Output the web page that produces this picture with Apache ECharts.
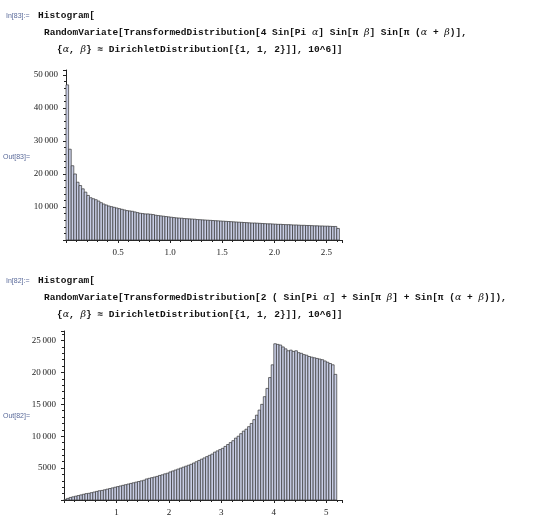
<!DOCTYPE html>
<html><head><meta charset="utf-8">
<script src="https://cdn.jsdelivr.net/npm/echarts@6/dist/echarts.min.js"></script>
<style>html,body{margin:0;padding:0;background:#fff}#c{width:540px;height:521px}</style>
</head><body><div id="c"></div>
<script>
// Top histogram: 4 Sin[Pi a] Sin[Pi b] Sin[Pi (a+b)], bin width 0.025 from 0
const topBinStart = 0, topBinWidth = 0.025;
const topCounts = [
47000,27500,22500,20000,17500,16500,15500,14500,13500,12800,
12500,12200,11800,11300,10900,10600,10300,10100,9900,9700,
9500,9300,9100,8900,8800,8700,8500,8300,8100,8000,
7900,7900,7800,7700,7500,7400,7300,7200,7100,7000,
6900,6800,6700,6650,6600,6500,6450,6400,6350,6300,
6200,6150,6100,6050,6000,5950,5900,5850,5800,5750,
5700,5650,5600,5550,5500,5450,5400,5350,5300,5250,
5200,5150,5150,5100,5050,5000,4950,4900,4900,4850,
4800,4750,4750,4700,4650,4650,4600,4550,4550,4500,
4450,4450,4400,4400,4350,4300,4300,4250,4250,4200,
4200,4150,4100,4100,3500];
// Bottom histogram: 2 (Sin[Pi a] + Sin[Pi b] + Sin[Pi (a+b)]), bin width 0.05 from 0
const botBinStart = 0, botBinWidth = 0.05;
const botCounts = [
100,250,400,500,600,700,800,900,1000,1050,
1150,1250,1350,1450,1500,1600,1700,1800,1900,2000,
2100,2200,2300,2400,2500,2600,2700,2800,2900,3000,
3100,3300,3400,3500,3600,3700,3850,3950,4100,4200,
4400,4550,4700,4850,5000,5150,5300,5450,5600,5800,
6000,6200,6400,6600,6800,7000,7200,7500,7700,7900,
8100,8400,8700,9000,9300,9700,10000,10400,10800,11100,
11500,12000,12600,13300,14100,15000,16200,17500,19200,21200,
24500,24400,24300,24000,23700,23400,23500,23300,23400,23100,
23000,22800,22700,22500,22400,22300,22200,22100,22000,21800,
21600,21400,21200,19700];
const topXTicks = [0.5,1.0,1.5,2.0,2.5];
const botXTicks = [1,2,3,4,5];

function toData(start,w,counts){return counts.map((c,i)=>[start+i*w,start+(i+1)*w,c]);}
function fmtY(v){if(v===0)return '';const s=String(v);return s.length>4?s.slice(0,s.length-3)+'\u2009'+s.slice(-3):s;}
const axisLine={lineStyle:{color:'#222',width:1}};
const lab={fontFamily:'Liberation Serif',fontSize:9,color:'#222'};
function renderBar(params,api){
  const p0=api.coord([api.value(0),api.value(2)]);
  const p1=api.coord([api.value(1),0]);
  return {type:'rect',shape:{x:p0[0],y:p0[1],width:p1[0]-p0[0],height:p1[1]-p0[1]},
    style:{fill:'#c9cee6',stroke:'#333',lineWidth:0.7}};
}
const chart=echarts.init(document.getElementById('c'),null,{renderer:'canvas'});
const codeStyle={fontFamily:'Liberation Mono',fontWeight:'bold',fontSize:9.5,fill:'#111',
  rich:{g:{fontFamily:'DejaVu Serif',fontStyle:'italic',fontSize:9.5,color:'#4a5aa0'},
        n:{fontFamily:'Liberation Mono',fontWeight:'bold',fontSize:9.5,color:'#111'}}};
function code(x,y,t){return {type:'text',left:x,top:y,style:Object.assign({},codeStyle,{text:t})};}
function lbl(x,y,t){return {type:'text',left:x,top:y,style:{text:t,fontFamily:'Liberation Sans',fontSize:7,fill:'#5a6a9a'}};}
chart.setOption({
  animation:false,
  graphic:[
    lbl(6,13,'In[83]:='), code(38,11,'Histogram['),
    code(44,28,'RandomVariate[TransformedDistribution[4 Sin[Pi {g|α}] Sin[π {g|β}] Sin[π ({g|α} + {g|β})],'),
    code(57,45,'{{g|α}, {g|β}} ≈ DirichletDistribution[{1, 1, 2}]], 10^6]]'),
    lbl(3,154,'Out[83]='),
    lbl(6,278,'In[82]:='), code(38,276,'Histogram['),
    code(44,293,'RandomVariate[TransformedDistribution[2 ( Sin[Pi {g|α}] + Sin[π {g|β}] + Sin[π ({g|α} + {g|β})]),'),
    code(57,310,'{{g|α}, {g|β}} ≈ DirichletDistribution[{1, 1, 2}]], 10^6]]'),
    lbl(3,413,'Out[82]=')
  ],
  grid:[{left:66,right:198,top:70,bottom:281},{left:64,right:198,top:331,bottom:21}],
  xAxis:[
    {gridIndex:0,type:'value',min:0,max:2.65,interval:0.5,axisLine:axisLine,splitLine:{show:false},
     axisTick:{length:3,lineStyle:{color:'#222'}},minorTick:{show:true,splitNumber:5,length:2,lineStyle:{color:'#222'}},
     axisLabel:Object.assign({},lab,{showMaxLabel:false,formatter:v=>topXTicks.indexOf(v)>=0?v.toFixed(1):''})},
    {gridIndex:1,type:'value',min:0,max:5.3,interval:1,axisLine:axisLine,splitLine:{show:false},
     axisTick:{length:3,lineStyle:{color:'#222'}},minorTick:{show:true,splitNumber:5,length:2,lineStyle:{color:'#222'}},
     axisLabel:Object.assign({},lab,{showMaxLabel:false,formatter:v=>botXTicks.indexOf(v)>=0?String(v):''})}
  ],
  yAxis:[
    {gridIndex:0,type:'value',min:0,max:51500,interval:10000,axisLine:Object.assign({show:true},axisLine),splitLine:{show:false},
     axisTick:{show:true,length:3,lineStyle:{color:'#222'}},minorTick:{show:true,splitNumber:5,length:2,lineStyle:{color:'#222'}},
     axisLabel:Object.assign({},lab,{showMaxLabel:false,formatter:fmtY})},
    {gridIndex:1,type:'value',min:0,max:26500,interval:5000,axisLine:Object.assign({show:true},axisLine),splitLine:{show:false},
     axisTick:{show:true,length:3,lineStyle:{color:'#222'}},minorTick:{show:true,splitNumber:5,length:2,lineStyle:{color:'#222'}},
     axisLabel:Object.assign({},lab,{showMaxLabel:false,formatter:fmtY})}
  ],
  series:[
    {type:'custom',xAxisIndex:0,yAxisIndex:0,renderItem:renderBar,encode:{x:[0,1],y:2},data:toData(topBinStart,topBinWidth,topCounts)},
    {type:'custom',xAxisIndex:1,yAxisIndex:1,renderItem:renderBar,encode:{x:[0,1],y:2},data:toData(botBinStart,botBinWidth,botCounts)}
  ]
});
</script></body></html>
